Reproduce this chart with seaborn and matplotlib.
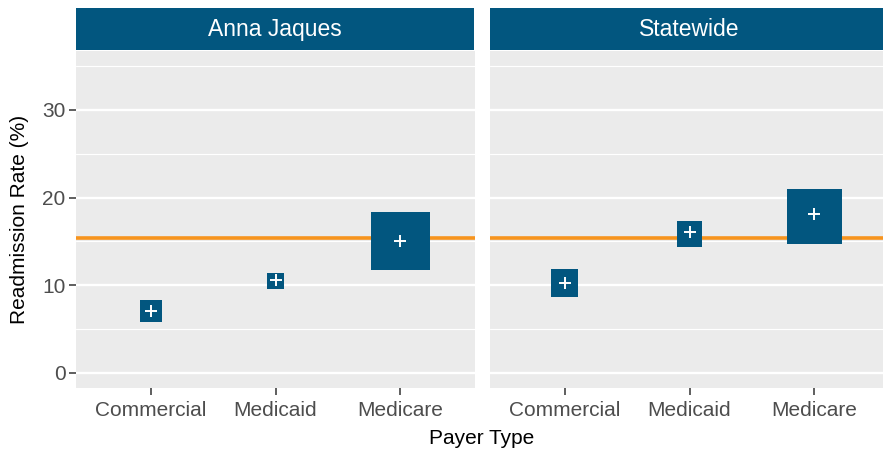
import numpy as np
import pandas as pd
import matplotlib.pyplot as plt
import seaborn as sns

# data
facets = ['Anna Jaques', 'Statewide']
payers = ['Commercial', 'Medicaid', 'Medicare']
rate_aj = [7.1, 10.55, 15.0]
low_aj = [5.85, 9.6, 11.7]
high_aj = [8.35, 11.45, 18.4]
rate_sw = [10.25, 16.1, 18.15]
low_sw = [8.7, 14.4, 14.75]
high_sw = [11.8, 17.35, 21.0]
benchmark = 15.4
yticks = [0, 10, 20, 30]

df = pd.DataFrame({
    'facet': np.repeat(facets, len(payers)),
    'payer': payers * 2,
    'rate': rate_aj + rate_sw,
    'low': low_aj + low_sw,
    'high': high_aj + high_sw,
})
df['xpos'] = df['payer'].map({p: i for i, p in enumerate(payers)})

blue = '#02567F'
orange = '#F7941D'

sns.set_theme(style='darkgrid', rc={'axes.facecolor': '#EBEBEB'})
plt.rcParams['font.family'] = ['Liberation Sans', 'DejaVu Sans']

W, H = 883, 449
fig = plt.figure(figsize=(W / 100, H / 100), dpi=100)

# panel boxes in pixels: left, top, width, height
panels = [(76, 50.7, 399, 337.6), (490, 50.7, 399, 337.6)]
strip_top, strip_h = 8, 42.3

for i, facet in enumerate(facets):
    l, t, w, h = panels[i]
    ax = fig.add_axes([l / W, 1 - (t + h) / H, w / W, h / H])
    sax = fig.add_axes([l / W, 1 - (strip_top + strip_h) / H, (w - 1) / W, strip_h / H])
    sax.set_facecolor(blue)
    sax.set_xticks([]); sax.set_yticks([])
    for s in sax.spines.values():
        s.set_visible(False)
    sax.text(0.5, 0.5, facet, color='white', fontsize=16.5, ha='center', va='center',
             transform=sax.transAxes)

    sub = df[df['facet'] == facet]
    ax.set_xlim(-0.6, 2.6)
    ax.set_ylim(-1.75, 36.75)

    # grid
    ax.grid(False)
    ax.set_yticks(yticks)
    ax.set_yticks([5, 15, 25, 35], minor=True)
    ax.set_xticks(range(len(payers)))
    ax.yaxis.grid(True, which='major', color='white', linewidth=1.7, zorder=0)
    ax.yaxis.grid(True, which='minor', color='white', linewidth=0.85, zorder=0)
    ax.set_axisbelow(True)

    ax.axhline(benchmark, color=orange, linewidth=2.6, zorder=2)

    # square boxes: side length in pixels equals the interval height
    p0 = ax.transData.transform((0, 0))
    p1 = ax.transData.transform((1, 1))
    k = (p1[1] - p0[1]) / (p1[0] - p0[0])
    span = sub['high'] - sub['low']
    ax.bar(sub['xpos'], span, bottom=sub['low'], width=span * k,
           color=blue, linewidth=0, zorder=3)

    sns.scatterplot(data=sub, x='xpos', y='rate', marker='+', s=70,
                    color='white', linewidth=1.4, ax=ax, zorder=4, legend=False)

    ax.set_xticklabels(payers)
    ax.set_xlabel('')
    ax.set_ylabel('')
    for s in ax.spines.values():
        s.set_visible(False)
    ax.tick_params(axis='x', which='major', length=5, width=1.1, color='#333333',
                   labelsize=15, labelcolor='#4D4D4D', pad=4.5, bottom=True)
    if i == 0:
        ax.set_yticklabels([str(v) for v in yticks])
        ax.tick_params(axis='y', which='major', length=5, width=1.1, color='#333333',
                       labelsize=15, labelcolor='#4D4D4D', pad=2.5, left=True)
    else:
        ax.tick_params(axis='y', which='major', left=False, labelleft=False)
    ax.tick_params(axis='y', which='minor', left=False)

fig.text(482 / W, 1 - 438 / H, 'Payer Type', fontsize=15, ha='center', va='center', color='black')
fig.text(20 / W, 1 - 219.5 / H, 'Readmission Rate (%)', fontsize=15, rotation=90,
         ha='center', va='center', color='black')

fig.savefig('out.png', dpi=100)
